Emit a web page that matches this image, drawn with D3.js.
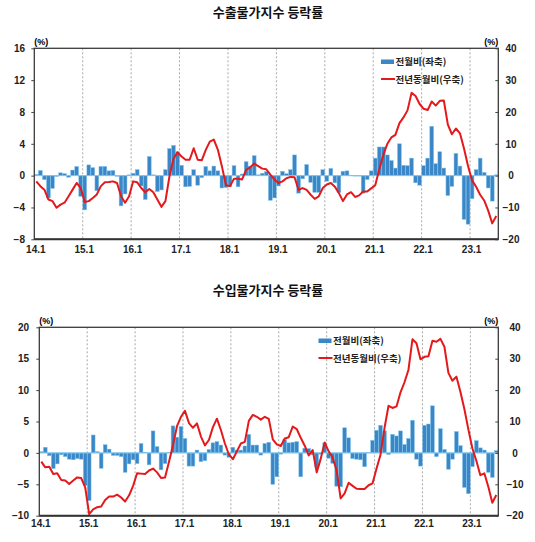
<!DOCTYPE html>
<html>
<head>
<meta charset="UTF-8">
<title>수출입물가지수 등락률</title>
<script src="https://cdn.jsdelivr.net/npm/d3@7"></script>
<style>
* { margin: 0; padding: 0; }
body { background: #fff; }
#chart { display: block; }
.tick text { font-family: "Liberation Sans", Arial, sans-serif; font-weight: bold; font-size: 10px; fill: #222; }
.tick line { stroke: #444; }
.kr { font-family: "Noto Sans CJK KR", sans-serif; }
</style>
</head>
<body>
<svg id="chart" width="535" height="542"></svg>
<script>
// 월 구분 (14.1 ~ 23.7)
const months = [];
for (let y = 14; y <= 23; y++) {
  for (let m = 1; m <= 12; m++) {
    if (y === 23 && m > 7) break;
    months.push(y + "." + m);
  }
}
const yearTicks = ["14.1", "15.1", "16.1", "17.1", "18.1", "19.1", "20.1", "21.1", "22.1", "23.1"];

// 수출물가 전월비(%)
const exportMoM = [
  0.15, 0.65, -0.5, -2.8, -1.6, -0.1, 0.35, 0.25, -0.2, 0.7, 1.15, -2.6,
  -4.3, 1.35, 1.0, -1.9, 1.15, 1.15, 0.6, 0.65, -0.05, -3.8, -2.3, 0.1,
  0.3, 0.75, -1.3, -3.0, 2.4, 0.1, -2.0, -1.8, 0.75, 3.4, 3.8, 3.0,
  1.3, -1.4, -1.35, 0.75, -1.2, -0.25, 1.15, 0.6, 1.2, 0.6, -1.55, -1.5,
  -1.4, 1.25, -1.4, 0.2, 1.75, 1.2, 2.5, 0.1, 0.3, 0.5, -3.1, -2.8,
  -1.3, 0.55, 0.25, 0.75, 2.6, -2.2, -0.4, 1.4, -0.85, -2.1, -2.1, 0.75,
  -0.7, 0.9, -0.9, -2.1, 0.55, 0.6, 0.05, 0.02, 0.02, -2.2, -0.5, 0.6,
  2.2, 3.6, 3.6, 2.6, 1.9, 0.95, 4.0, 1.3, 1.25, 2.2, -0.9, -1.2,
  1.25, 2.2, 6.2, 1.5, 3.0, 0.95, -2.5, -1.35, 2.8, 1.2, -5.5, -6.1,
  -2.9, 0.75, 2.2, 0.4, -1.55, -3.2, 0.1
];
// 수출물가 전년동월비(%)
const exportYoY = [
  -1.8, -3.3, -4.4, -7.5, -8.0, -10.1, -9.1, -8.5, -6.5, -4.4, -2.3, -3.9,
  -8.3, -8.0, -7.0, -5.9, -3.3, -2.1, -2.0, -1.8, -2.3, -6.5, -8.5, -6.5,
  -1.8, -2.1, -3.9, -5.2, -4.2, -5.2, -7.5, -9.8, -8.0, -0.2, 5.3, 7.3,
  6.0, 5.0, 5.0, 8.6, 5.0, 4.8, 8.1, 10.7, 11.3, 8.1, 2.9, -3.0,
  -3.3, -1.0, -1.0, -1.2, 1.8, 2.6, 3.8, 3.0, 2.2, 2.0, 0.3, -1.2,
  -2.3, -1.8, -0.8, -0.4, -0.5, -4.5, -3.9, -4.5, -6.0, -7.3, -6.5, -3.9,
  -2.8, -2.3, -3.5, -5.5, -8.0, -5.9, -5.2, -6.7, -6.2, -5.0, -5.0, -4.0,
  -3.0, 2.0, 6.5, 10.0, 12.0, 12.8, 16.5, 18.3, 20.5, 26.0, 25.0, 22.5,
  21.0, 20.6, 23.3, 22.0, 23.5, 23.6, 16.0, 13.0, 14.8, 13.3, 8.5, 3.0,
  -1.5, -3.5, -6.0, -7.8, -11.0, -15.0, -12.7
];
// 수입물가 전월비(%)
const importMoM = [
  0.2, 0.9, -0.45, -2.5, -1.75, -0.3, -0.6, -1.0, -1.1, -0.9, -1.0, -5.2,
  -7.6, 2.85, 0.2, -2.45, 1.3, 0.6, -0.4, -0.4, -0.6, -3.1, -1.75, -1.1,
  -1.7, 1.5, 0.1, -1.9, 3.5, 1.0, -2.7, -1.7, 0.1, 4.3, 2.5, 4.2,
  2.3, -2.1, -2.1, 0.45, -1.4, -1.25, 0.55, 1.6, 1.8, 1.25, -0.35, -0.7,
  0.9, 0.45, 0.45, 1.1, 2.95, 1.25, 1.25, -0.35, 1.5, 1.7, -5.0, -3.8,
  -0.2, 2.1, 1.6, 1.7, 1.8, -3.8, 0.75, 0.7, -0.3, -2.3, -0.2, 1.6,
  -0.85, -1.65, -5.3, -5.4, 4.0, 2.4, -0.9, -1.0, -1.1, -2.2, 0.1, 2.0,
  3.6, 4.4, 3.5, -0.25, 2.95, 2.7, 3.5, 1.35, 2.3, 5.2, -1.0, -2.1,
  4.4, 4.6, 7.5, -0.6, 3.85, 0.55, -2.6, -1.0, 3.4, 1.15, -5.5, -6.5,
  -2.2, 1.95, 0.8, 0.45, -3.1, -3.9, 0.35
];
// 수입물가 전년동월비(%)
const importYoY = [
  -2.8, -4.6, -4.4, -6.7, -6.5, -8.6, -8.8, -9.9, -8.8, -7.8, -8.0, -11.0,
  -19.5, -18.0, -17.3, -17.1, -15.0, -13.9, -13.9, -13.3, -14.2, -15.5, -13.5, -10.5,
  -6.5, -6.6, -6.7, -5.6, -5.0, -6.2, -8.0, -7.8, -2.8, 2.5, 8.5, 11.5,
  13.4, 9.5, 8.0, 9.4, 5.2, 2.4, 4.1, 8.2, 10.9, 7.3, 3.0, -0.5,
  -2.0, 0.5, 3.0, 3.5, 10.2, 12.1, 11.5, 10.6, 11.5, 10.8, 4.3, 2.7,
  2.2, 4.6, 5.0, 8.4, 7.6, 4.8, 2.3, -0.8, 0.9, -6.2, -1.9, 3.3,
  0.5, -1.5, -5.6, -14.5, -12.9, -9.5, -10.5, -11.4, -11.5, -11.5, -10.3, -9.7,
  -5.0, -0.5, 8.0, 15.0, 14.3, 14.8, 19.3, 22.5, 26.5, 36.2, 34.9, 29.8,
  30.6, 30.8, 35.7, 35.4, 36.3, 33.8, 25.5, 23.0, 24.3, 19.5, 14.0, 7.5,
  1.5, -2.5, -7.1, -6.5, -10.8, -15.9, -13.4
];

const panels = [
  {
    title: "수출물가지수 등락률", titleY: 17,
    left: 34.3, right: 498.3, top: 48.3, bottom: 239.3,
    lDomain: [-8, 16], lTicks: [-8, -4, 0, 4, 8, 12, 16],
    rDomain: [-20, 40], rTicks: [-20, -10, 0, 10, 20, 30, 40],
    mom: exportMoM, yoy: exportYoY,
    legend: [381, 59.5], leftLabelX: 25, rightLabelX: 508, xLabelY: 255
  },
  {
    title: "수입물가지수 등락률", titleY: 295,
    left: 39.3, right: 498.3, top: 327.3, bottom: 515.7,
    lDomain: [-10, 20], lTicks: [-10, -5, 0, 5, 10, 15, 20],
    rDomain: [-20, 40], rTicks: [-20, -10, 0, 10, 20, 30, 40],
    mom: importMoM, yoy: importYoY,
    legend: [318.5, 338.5], leftLabelX: 29, rightLabelX: 512, xLabelY: 529
  }
];

const svg = d3.select("#chart");
svg.append("rect").attr("width", 535).attr("height", 542).attr("fill", "#fff");

panels.forEach(p => {
  const g = svg.append("g");

  const x = d3.scaleBand().domain(months).range([p.left, p.right]).paddingInner(0.06).paddingOuter(0.03);
  const yL = d3.scaleLinear().domain(p.lDomain).range([p.bottom, p.top]);
  const yR = d3.scaleLinear().domain(p.rDomain).range([p.bottom, p.top]);
  const step = x.step();
  const start = m => x(m) - x.paddingInner() * step / 2;

  // 제목
  g.append("text").attr("class", "kr")
    .attr("x", 268).attr("y", p.titleY)
    .attr("text-anchor", "middle")
    .style("font-size", "13px").style("font-weight", "bold").style("fill", "#111")
    .text(p.title);

  // 연도 구분 점선
  g.selectAll(".grid").data(yearTicks.slice(1)).enter().append("line")
    .attr("x1", d => start(d)).attr("x2", d => start(d))
    .attr("y1", p.top).attr("y2", p.bottom)
    .style("stroke", "#a8a8a8").style("stroke-width", 1).style("stroke-dasharray", "2,2");

  // 전월비 막대
  g.selectAll(".bar").data(p.mom).enter().append("rect")
    .attr("x", (d, i) => x(months[i]))
    .attr("width", x.bandwidth())
    .attr("y", d => yL(Math.max(0, d)))
    .attr("height", d => Math.max(0.6, Math.abs(yL(d) - yL(0))))
    .style("fill", "#3a86c6").style("stroke", "#7ec3ec").style("stroke-width", 0.5);

  // 0선
  g.append("line")
    .attr("x1", p.left).attr("x2", p.right)
    .attr("y1", yL(0)).attr("y2", yL(0))
    .style("stroke", "#7ec3ec").style("stroke-width", 1);

  // 전년동월비 선
  const line = d3.line()
    .x((d, i) => x(months[i]) + x.bandwidth() / 2)
    .y(d => yR(d));
  g.append("path").datum(p.yoy)
    .attr("d", line)
    .style("fill", "none").style("stroke", "#e3191c").style("stroke-width", 2)
    .style("stroke-linejoin", "round");

  // 테두리
  g.append("rect")
    .attr("x", p.left).attr("y", p.top)
    .attr("width", p.right - p.left).attr("height", p.bottom - p.top)
    .style("fill", "none").style("stroke", "#3a3a3a").style("stroke-width", 1.3);
  g.append("line")
    .attr("x1", p.left).attr("x2", p.right)
    .attr("y1", p.bottom).attr("y2", p.bottom)
    .style("stroke", "#333").style("stroke-width", 2);

  // 좌축
  const axL = g.append("g").attr("transform", `translate(${p.left},0)`)
    .call(d3.axisLeft(yL).tickValues(p.lTicks).tickSize(3).tickPadding(p.left - p.leftLabelX - 3).tickFormat(d3.format("d")));
  axL.select(".domain").remove();

  // 우축
  const axR = g.append("g").attr("transform", `translate(${p.right},0)`)
    .call(d3.axisRight(yR).tickValues(p.rTicks).tickSize(-3).tickPadding(p.rightLabelX - p.right + 3).tickFormat(d3.format("d")));
  axR.select(".domain").remove();
  axR.selectAll("text").attr("text-anchor", "middle");

  // 하단 축 레이블
  const axB = g.append("g").attr("transform", `translate(0,${p.bottom})`)
    .call(d3.axisBottom(x).tickValues(yearTicks).tickSize(0).tickPadding(p.xLabelY - p.bottom - 9));
  axB.select(".domain").remove();
  axB.selectAll(".tick").attr("transform", d => `translate(${start(d) + 1.5},0)`);

  // (%) 표시
  g.append("text").attr("x", p.left + 7).attr("y", p.top - 3)
    .attr("text-anchor", "middle")
    .style("font-family", "Liberation Sans, Arial, sans-serif").style("font-weight", "bold").style("font-size", "9px")
    .text("(%)");
  g.append("text").attr("x", p.right - 7).attr("y", p.top - 3)
    .attr("text-anchor", "middle")
    .style("font-family", "Liberation Sans, Arial, sans-serif").style("font-weight", "bold").style("font-size", "9px")
    .text("(%)");

  // 범례
  const [lx, ly] = p.legend;
  g.append("rect").attr("x", lx).attr("y", ly).attr("width", 13).attr("height", 4.5)
    .style("fill", "#3a86c6");
  g.append("text").attr("class", "kr").attr("x", lx + 14.5).attr("y", ly + 5.5)
    .style("font-size", "9.5px").style("font-weight", "bold").style("fill", "#222")
    .text("전월비(좌축)");
  g.append("line").attr("x1", lx).attr("x2", lx + 14).attr("y1", ly + 19.5).attr("y2", ly + 19.5)
    .style("stroke", "#e3191c").style("stroke-width", 2);
  g.append("text").attr("class", "kr").attr("x", lx + 14.5).attr("y", ly + 23)
    .style("font-size", "9.5px").style("font-weight", "bold").style("fill", "#222")
    .text("전년동월비(우축)");
});
</script>
</body>
</html>
